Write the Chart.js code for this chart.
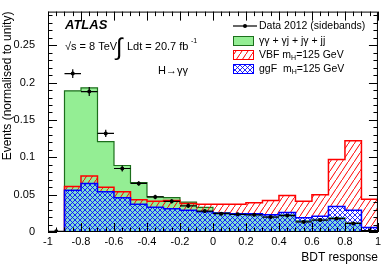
<!DOCTYPE html>
<html lang="en">
<head>
<meta charset="UTF-8">
<title>BDT response</title>
<script src="https://cdn.jsdelivr.net/npm/chart.js"></script>
<style>
    body { margin: 0; background: #fff; }
    #wrap { width: 384px; height: 266px; }
</style>
</head>
<body>
<div id="wrap"><canvas id="bdt" width="384" height="266"></canvas></div>
<script>
// bin edges of the BDT response histogram
const binEdges = [-1, -0.9, -0.8, -0.7, -0.6, -0.5, -0.4, -0.3, -0.2, -0.1, 0,
                  0.1, 0.2, 0.3, 0.4, 0.5, 0.6, 0.7, 0.8, 0.9, 1];

// gg + gj + jg + jj background (green)
const bkg = [0, 0.189, 0.193, 0.121, 0.089, 0.066, 0.047, 0.046, 0.040, 0.033,
             0.026, 0.024, 0.023, 0.021, 0.023, 0.015, 0.017, 0.019, 0.012, 0.002];
// VBF mH=125 GeV (red hatch)
const vbf = [0, 0.061, 0.075, 0.060, 0.054, 0.043, 0.041, 0.042, 0.038, 0.037,
             0.037, 0.037, 0.039, 0.042, 0.049, 0.041, 0.050, 0.097, 0.122, 0.044];
// ggF mH=125 GeV (blue cross hatch)
const ggf = [0, 0.056, 0.065, 0.054, 0.046, 0.037, 0.033, 0.031, 0.029, 0.027,
             0.025, 0.0245, 0.0245, 0.023, 0.026, 0.019, 0.021, 0.034, 0.029, 0.006];
// Data 2012 (sidebands)
const data2012 = [0.001, 0.212, 0.188, 0.132, 0.085, 0.065, 0.047, 0.041, 0.035, 0.028,
                  0.0245, 0.0237, 0.023, 0.020, 0.022, 0.0135, 0.016, 0.018, 0.0115, 0.002];
const dataErr = [0.001, 0.006, 0.006, 0.005, 0.004, 0.003, 0.003, 0.003, 0.003, 0.002,
                 0.002, 0.002, 0.002, 0.002, 0.002, 0.002, 0.002, 0.002, 0.002, 0.001];

const xTicks = [-1, -0.8, -0.6, -0.4, -0.2, 0, 0.2, 0.4, 0.6, 0.8, 1];
const xTickLabels = ['-1', '-0.8', '-0.6', '-0.4', '-0.2', '0', '0.2', '0.4', '0.6', '0.8', '1'];
const yTicks = [0, 0.05, 0.1, 0.15, 0.2, 0.25];
const yTickLabels = ['0', '0.05', '0.1', '0.15', '0.2', '0.25'];

const FONT = 'Liberation Sans, Arial, Helvetica, sans-serif';

// histogram outline as stepped points
function steps(vals) {
    const pts = vals.map((v, i) => ({ x: binEdges[i], y: v }));
    pts.push({ x: binEdges[vals.length], y: vals[vals.length - 1] });
    pts.push({ x: binEdges[vals.length], y: 0 });
    return pts;
}

function hatch(color, cross) {
    const c = document.createElement('canvas');
    const w = cross ? 5 : 6, h = cross ? 5 : 9;
    c.width = w; c.height = h;
    const g = c.getContext('2d');
    g.strokeStyle = color;
    g.lineWidth = cross ? 0.85 : 1;
    g.beginPath();
    g.moveTo(-w, 2 * h); g.lineTo(2 * w, -h);
    if (cross) { g.moveTo(-w, -h); g.lineTo(2 * w, 2 * h); }
    g.stroke();
    return g.createPattern(c, 'repeat');
}

const redHatch = hatch('#ff0000', false);
const blueHatch = hatch('#0000ff', true);
const overlap = bkg.map((v, i) => Math.min(v, ggf[i]));
const dataPts = data2012.map((v, i) => ({ x: (binEdges[i] + binEdges[i + 1]) / 2, y: v }));

const errorBars = {
    id: 'errorBars',
    afterDatasetsDraw(chart) {
        const { ctx, scales: { x, y } } = chart;
        ctx.save();
        ctx.strokeStyle = '#000';
        ctx.lineWidth = 1.2;
        data2012.forEach((v, i) => {
            const x0 = x.getPixelForValue(binEdges[i]);
            const x1 = x.getPixelForValue(binEdges[i + 1]);
            const cx = (x0 + x1) / 2;
            const py = y.getPixelForValue(v);
            ctx.beginPath();
            ctx.moveTo(x0, py); ctx.lineTo(x1, py);
            ctx.moveTo(cx, y.getPixelForValue(v - dataErr[i]));
            ctx.lineTo(cx, y.getPixelForValue(v + dataErr[i]));
            ctx.stroke();
        });
        ctx.restore();
    }
};

// frame with inward ticks on all four sides
const frame = {
    id: 'frame',
    afterDraw(chart) {
        const { ctx, chartArea: a, scales: { x, y } } = chart;
        ctx.save();
        ctx.strokeStyle = '#000';
        ctx.lineWidth = 1;
        ctx.strokeRect(a.left + 0.5, a.top + 0.5, a.right - a.left - 1, a.bottom - a.top - 1);
        ctx.beginPath();
        for (let k = 0; k <= 40; k++) {
            const v = -1 + k * 0.05;
            const px = Math.round(x.getPixelForValue(v)) + 0.5;
            const len = k % 4 === 0 ? 9 : 4.5;
            ctx.moveTo(px, a.bottom); ctx.lineTo(px, a.bottom - len);
            ctx.moveTo(px, a.top); ctx.lineTo(px, a.top + len);
        }
        for (let k = 0; k <= 29; k++) {
            const v = k * 0.01;
            const py = Math.round(y.getPixelForValue(v)) + 0.5;
            const len = k % 5 === 0 ? 9 : 4.5;
            ctx.moveTo(a.left, py); ctx.lineTo(a.left + len, py);
            ctx.moveTo(a.right, py); ctx.lineTo(a.right - len, py);
        }
        ctx.stroke();
        ctx.restore();
    }
};

// ATLAS label, energy/lumi, channel and legend
const annotations = {
    id: 'annotations',
    afterDraw(chart) {
        const ctx = chart.ctx;
        ctx.save();
        ctx.fillStyle = '#000';
        ctx.textBaseline = 'middle';
        ctx.textAlign = 'left';

        ctx.font = 'italic bold 13px ' + FONT;
        ctx.fillText('ATLAS', 65, 25);

        ctx.font = '11px ' + FONT;
        ctx.fillText('\u221As = 8 TeV', 65, 47);
        ctx.font = '24px ' + FONT;
        ctx.fillText('\u222B', 116, 48);
        ctx.font = '11px ' + FONT;
        ctx.fillText('Ldt = 20.7 fb', 127, 47);
        ctx.font = '7px ' + FONT;
        ctx.fillText('-1', 191, 41);
        ctx.font = '11px ' + FONT;
        ctx.fillText('H\u2192\u03B3\u03B3', 158, 71);

        // legend
        const lx = 233, tx = 259;
        const rows = [26, 41, 55, 69];
        ctx.strokeStyle = '#000';
        ctx.lineWidth = 1.2;
        ctx.beginPath(); ctx.moveTo(lx, rows[0]); ctx.lineTo(lx + 24, rows[0]); ctx.stroke();
        ctx.beginPath(); ctx.arc(lx + 12, rows[0], 2, 0, Math.PI * 2); ctx.fill();

        const box = (cy, fill, stroke) => {
            ctx.fillStyle = fill;
            ctx.fillRect(lx, cy - 5, 21, 10);
            ctx.strokeStyle = stroke;
            ctx.lineWidth = 1;
            ctx.strokeRect(lx + 0.5, cy - 4.5, 20, 9);
        };
        box(rows[1], '#94ee94', '#1c6f1c');
        box(rows[2], redHatch, '#ff0000');
        box(rows[3], blueHatch, '#0000ff');

        ctx.fillStyle = '#000';
        ctx.font = '10.5px ' + FONT;
        ctx.fillText('Data 2012 (sidebands)', tx, rows[0]);
        ctx.fillText('\u03B3\u03B3 + \u03B3j + j\u03B3 + jj', tx, rows[1]);
        const withSub = (pre, post, cy) => {
            ctx.font = '10.5px ' + FONT;
            ctx.fillText(pre, tx, cy);
            let w = ctx.measureText(pre).width;
            ctx.font = '7px ' + FONT;
            ctx.fillText('H', tx + w, cy + 3);
            w += ctx.measureText('H').width;
            ctx.font = '10.5px ' + FONT;
            ctx.fillText(post, tx + w, cy);
        };
        withSub('VBF m', '=125 GeV', rows[2]);
        withSub('ggF  m', '=125 GeV', rows[3]);
        ctx.restore();
    }
};

const histo = (label, vals, extra) => Object.assign({
    label: label,
    data: steps(vals),
    stepped: true,
    pointRadius: 0,
    borderJoinStyle: 'miter'
}, extra);

new Chart(document.getElementById('bdt'), {
    type: 'line',
    data: {
        datasets: [
            { label: 'Data 2012 (sidebands)', type: 'scatter', data: dataPts, order: 0,
              pointRadius: 2, pointBackgroundColor: '#000', pointBorderWidth: 0, showLine: false },
            histo('ggF mH=125 GeV', ggf, { order: 1, borderColor: '#0000ff', borderWidth: 1.5,
                  backgroundColor: blueHatch, fill: 'origin' }),
            histo('VBF mH=125 GeV', vbf, { order: 2, borderColor: '#ff0000', borderWidth: 1.5,
                  backgroundColor: redHatch, fill: 1 }),
            histo('overlap', overlap, { order: 3, borderWidth: 0, borderColor: 'rgba(0,0,0,0)',
                  backgroundColor: '#80dcd2', fill: 'origin' }),
            histo('\u03B3\u03B3 + \u03B3j + j\u03B3 + jj', bkg, { order: 4, borderColor: '#1c6f1c', borderWidth: 1.2,
                  backgroundColor: '#94ee94', fill: 'origin' })
        ]
    },
    options: {
        responsive: false,
        animation: false,
        devicePixelRatio: 1,
        layout: { padding: { top: 7, right: 4, left: 0, bottom: 0 } },
        plugins: { legend: { display: false }, tooltip: { enabled: false } },
        scales: {
            x: {
                type: 'linear', min: -1, max: 1,
                grid: { display: false, drawTicks: false }, border: { display: false },
                afterBuildTicks: s => { s.ticks = xTicks.map(v => ({ value: v })); },
                afterFit: s => { s.height = 34; },
                ticks: { callback: (v, i) => xTickLabels[i], maxRotation: 0, autoSkip: false,
                         padding: 3, color: '#000', font: { family: FONT, size: 11 } },
                title: { display: true, text: 'BDT response', align: 'end', color: '#000',
                         padding: { top: 0, bottom: 1 }, font: { family: FONT, size: 12 } }
            },
            y: {
                type: 'linear', min: 0, max: 0.295,
                grid: { display: false }, border: { display: false },
                afterBuildTicks: s => { s.ticks = yTicks.map(v => ({ value: v })); },
                afterFit: s => { s.width = 48; },
                ticks: { callback: (v, i) => yTickLabels[i], autoSkip: false,
                         padding: 5, color: '#000', font: { family: FONT, size: 11 } },
                title: { display: true, text: 'Events (normalised to unity)', align: 'end', color: '#000',
                         padding: { top: 0, bottom: 0 }, font: { family: FONT, size: 12 } }
            }
        }
    },
    plugins: [errorBars, frame, annotations]
});
</script>
</body>
</html>
